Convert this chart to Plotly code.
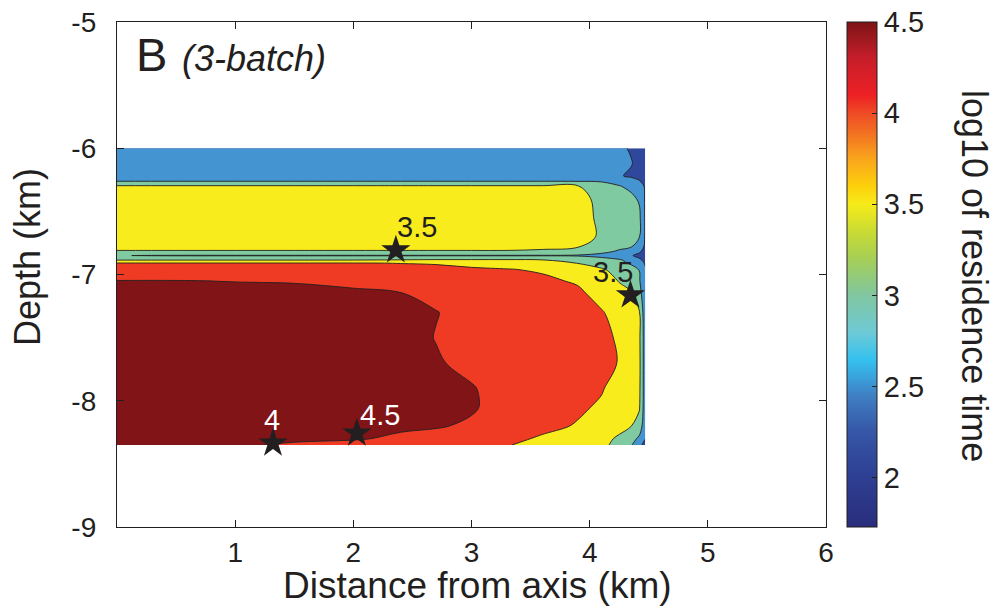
import plotly.graph_objects as go

# ---------------- data ----------------
# grid nodes (km)
X_KM = [0.0, 0.5, 1.0, 1.5, 2.0, 2.4, 2.7, 3.0, 3.3, 3.6, 3.9, 4.1, 4.25, 4.35, 4.42, 4.47]
Y_KM = [-6.00, -6.12, -6.22, -6.26, -6.30, -6.40, -6.55, -6.70, -6.78, -6.815, -6.85,
        -6.885, -6.91, -6.96, -7.05, -7.15, -7.30, -7.50, -7.70, -7.90, -8.05, -8.20,
        -8.30, -8.35]
# log10 of residence time, one row per Y_KM entry (top to bottom)
LOG_RES_TIME = [
    [2.75, 2.75, 2.75, 2.75, 2.75, 2.75, 2.75, 2.74, 2.73, 2.72, 2.70, 2.65, 2.56, 2.47, 2.35, 2.20],
    [2.82, 2.82, 2.82, 2.82, 2.82, 2.82, 2.82, 2.82, 2.81, 2.80, 2.78, 2.72, 2.62, 2.52, 2.40, 2.25],
    [2.92, 2.92, 2.92, 2.92, 2.92, 2.92, 2.92, 2.92, 2.91, 2.90, 2.86, 2.75, 2.53, 2.45, 2.40, 2.30],
    [2.98, 2.98, 2.98, 2.98, 2.98, 2.98, 2.98, 2.98, 2.98, 2.98, 2.97, 2.95, 2.85, 2.65, 2.52, 2.35],
    [3.55, 3.55, 3.55, 3.55, 3.55, 3.55, 3.55, 3.55, 3.55, 3.55, 3.52, 3.25, 3.02, 2.90, 2.70, 2.45],
    [3.70, 3.70, 3.70, 3.70, 3.70, 3.70, 3.70, 3.70, 3.70, 3.70, 3.62, 3.40, 3.20, 3.10, 2.95, 2.45],
    [3.80, 3.80, 3.80, 3.80, 3.80, 3.80, 3.80, 3.80, 3.80, 3.80, 3.70, 3.40, 3.25, 3.15, 3.10, 2.45],
    [3.72, 3.72, 3.72, 3.72, 3.72, 3.72, 3.72, 3.72, 3.72, 3.72, 3.65, 3.45, 3.25, 3.15, 3.02, 2.45],
    [3.60, 3.60, 3.60, 3.60, 3.60, 3.60, 3.60, 3.60, 3.60, 3.58, 3.52, 3.30, 3.10, 3.02, 2.85, 2.40],
    [3.48, 3.48, 3.48, 3.48, 3.48, 3.48, 3.48, 3.48, 3.48, 3.45, 3.35, 3.15, 2.95, 2.80, 2.60, 2.30],
    [3.01, 2.97, 2.97, 2.97, 2.97, 2.97, 2.97, 2.97, 2.97, 2.97, 2.95, 2.85, 2.70, 2.55, 2.35, 2.10],
    [3.48, 3.48, 3.48, 3.48, 3.49, 3.52, 3.55, 3.55, 3.55, 3.51, 3.40, 3.20, 3.05, 2.85, 2.60, 2.35],
    [4.02, 4.02, 4.02, 4.02, 4.02, 3.99, 3.97, 3.90, 3.80, 3.65, 3.49, 3.30, 3.10, 2.95, 2.75, 2.45],
    [4.20, 4.20, 4.20, 4.20, 4.20, 4.15, 4.10, 4.05, 4.02, 3.95, 3.75, 3.55, 3.35, 3.15, 2.99, 2.55],
    [4.51, 4.51, 4.49, 4.48, 4.43, 4.35, 4.28, 4.20, 4.15, 4.08, 3.95, 3.70, 3.48, 3.30, 3.05, 2.55],
    [4.60, 4.60, 4.60, 4.58, 4.55, 4.51, 4.42, 4.35, 4.28, 4.18, 4.08, 3.85, 3.62, 3.55, 3.20, 2.60],
    [4.70, 4.70, 4.70, 4.70, 4.65, 4.60, 4.51, 4.40, 4.32, 4.25, 4.15, 4.03, 3.85, 3.70, 3.54, 2.65],
    [4.75, 4.75, 4.75, 4.75, 4.70, 4.62, 4.49, 4.40, 4.35, 4.30, 4.20, 4.10, 3.95, 3.77, 3.60, 2.70],
    [4.75, 4.75, 4.75, 4.75, 4.72, 4.65, 4.53, 4.42, 4.35, 4.30, 4.22, 4.13, 3.98, 3.77, 3.62, 2.70],
    [4.72, 4.72, 4.72, 4.72, 4.70, 4.65, 4.60, 4.52, 4.38, 4.28, 4.16, 4.03, 3.85, 3.72, 3.60, 2.70],
    [4.70, 4.70, 4.70, 4.70, 4.67, 4.62, 4.57, 4.54, 4.35, 4.20, 4.06, 3.95, 3.72, 3.62, 3.55, 2.70],
    [4.65, 4.65, 4.63, 4.60, 4.58, 4.55, 4.53, 4.45, 4.25, 4.10, 3.97, 3.75, 3.60, 3.51, 3.30, 2.65],
    [4.60, 4.60, 4.57, 4.54, 4.53, 4.45, 4.38, 4.25, 4.10, 3.95, 3.78, 3.60, 3.45, 3.20, 2.90, 2.52],
    [4.56, 4.56, 4.53, 4.47, 4.40, 4.33, 4.25, 4.12, 4.02, 3.88, 3.72, 3.56, 3.42, 3.05, 2.65, 2.30],
]

# sample locations (stars) and their labels
STAR_X = [2.36, 4.345, 1.32, 2.03]
STAR_Y = [-6.807, -7.163, -8.336, -8.257]
STAR_LABELS = ["3.5", "3.5", "4", "4.5"]

# contour levels and colour bar range
LEVEL_START, LEVEL_END, LEVEL_STEP = 2.5, 4.5, 0.5
CB_MIN, CB_MAX = 1.73, 4.5
CB_TICKS = [2, 2.5, 3, 3.5, 4, 4.5]
X_TICKS = [1, 2, 3, 4, 5, 6]
Y_TICKS = [-9, -8, -7, -6, -5]

# ---------------- styling ----------------
FONT = "Liberation Sans, Arial, Helvetica, sans-serif"
INK = "#231f20"

band_colors = ["#30489c", "#4394d0", "#7fcaa0", "#f8ec1c", "#ef3b24", "#811417"]
fill_scale = []
n = len(band_colors)
for i, c in enumerate(band_colors):
    lo = max(0.0, (i - 0.5) / (n - 1))
    hi = min(1.0, (i + 0.5) / (n - 1))
    fill_scale.append([lo, c])
    fill_scale.append([hi, c])

cb_stop_vals = [1.73, 2.0, 2.25, 2.45, 2.55, 2.65, 2.8, 3.0, 3.2, 3.35, 3.5, 3.6,
                3.75, 3.9, 4.0, 4.1, 4.3, 4.5]
cb_stop_cols = ["#2a2d7c", "#2e3f92", "#3656a6", "#3f7fc2", "#3aa2dc", "#35c1ef",
                "#6fcad6", "#80c6a0", "#a5cf57", "#c9db33", "#f6eb1a", "#fdd00b",
                "#f9a51c", "#f26d22", "#ef4b26", "#ed2024", "#c61e2a", "#7d1416"]
cb_scale = [[(v - CB_MIN) / (CB_MAX - CB_MIN), c] for v, c in zip(cb_stop_vals, cb_stop_cols)]

L, R, T, B = 117, 174, 22, 83
PW, PH = 1000 - L - R, 610 - T - B


def px_x(p):
    return (p - L) / PW


def px_y(p):
    return 1 - (p - T) / PH


fig = go.Figure()

fig.add_trace(go.Contour(
    x=X_KM, y=Y_KM[::-1], z=LOG_RES_TIME[::-1],
    contours=dict(start=LEVEL_START, end=LEVEL_END, size=LEVEL_STEP, coloring="fill",
                  showlines=True),
    line=dict(color=INK, width=0.9, smoothing=1),
    colorscale=fill_scale, showscale=False, hoverinfo="skip",
))

# colour bar carrier (invisible markers)
fig.add_trace(go.Scatter(
    x=[STAR_X[0], STAR_X[0]], y=[STAR_Y[0], STAR_Y[0]], mode="markers",
    marker=dict(size=1, opacity=0, color=[CB_MIN, CB_MAX], cmin=CB_MIN, cmax=CB_MAX,
                colorscale=cb_scale, showscale=True,
                colorbar=dict(x=px_x(847), xanchor="left", xpad=0,
                              y=0.5, yanchor="middle", ypad=0, len=1, lenmode="fraction",
                              thickness=30, thicknessmode="pixels",
                              outlinewidth=1, outlinecolor=INK,
                              tickvals=CB_TICKS, ticktext=[f"{t:g}" for t in CB_TICKS],
                              tickprefix="\u2009",
                              ticks="inside", ticklen=5, tickcolor=INK, tickwidth=1,
                              tickfont=dict(family=FONT, size=29, color=INK))),
    hoverinfo="skip", showlegend=False,
))

fig.add_trace(go.Scatter(
    x=STAR_X, y=STAR_Y, mode="markers",
    marker=dict(symbol="star", size=22, color=INK, line=dict(width=0)),
    hoverinfo="skip", showlegend=False,
))

label_shift = [(21, 23), (-17, 23), (-1, 23), (23, 18)]
label_color = [INK, INK, "white", "white"]
for xs, ys, t, (dx, dy), col in zip(STAR_X, STAR_Y, STAR_LABELS, label_shift, label_color):
    fig.add_annotation(x=xs, y=ys, xref="x", yref="y", text=t, showarrow=False,
                       xshift=dx, yshift=dy, xanchor="center", yanchor="middle",
                       font=dict(family=FONT, size=29, color=col))

axis_common = dict(showline=True, linecolor=INK, linewidth=1.3, mirror="ticks",
                   ticks="inside", ticklen=7, tickcolor=INK, tickwidth=1,
                   showgrid=False, zeroline=False,
                   tickfont=dict(family=FONT, size=28, color=INK))
fig.update_xaxes(range=[0, 6], tickvals=X_TICKS, ticktext=[str(t) for t in X_TICKS],
                 **axis_common)
fig.update_yaxes(range=[-9, -5], tickvals=Y_TICKS, ticktext=[str(t) for t in Y_TICKS],
                 ticklabelstandoff=14, **axis_common)

# titles
fig.add_annotation(x=px_x(477), y=px_y(585), xref="paper", yref="paper",
                   text="Distance from axis (km)", showarrow=False,
                   xanchor="center", yanchor="middle",
                   font=dict(family=FONT, size=37, color=INK))
fig.add_annotation(x=px_x(27), y=px_y(257), xref="paper", yref="paper",
                   text="Depth (km)", showarrow=False, textangle=-90,
                   xanchor="center", yanchor="middle",
                   font=dict(family=FONT, size=36, color=INK))
fig.add_annotation(x=px_x(975), y=px_y(276), xref="paper", yref="paper",
                   text="log10 of residence time", showarrow=False, textangle=90,
                   xanchor="center", yanchor="middle",
                   font=dict(family=FONT, size=36, color=INK))
fig.add_annotation(x=px_x(134), y=px_y(54), xref="paper", yref="paper",
                   text="B", showarrow=False, xanchor="left", yanchor="middle",
                   font=dict(family=FONT, size=47, color=INK))
fig.add_annotation(x=px_x(180), y=px_y(59), xref="paper", yref="paper",
                   text="<i>(3-batch)</i>", showarrow=False, xanchor="left", yanchor="middle",
                   font=dict(family=FONT, size=36, color=INK))

fig.update_layout(
    width=1000, height=610, margin=dict(l=L, r=R, t=T, b=B, autoexpand=False),
    paper_bgcolor="white", plot_bgcolor="white", showlegend=False,
    font=dict(family=FONT, color=INK),
)

fig.write_html("out.html", config={"displayModeBar": False},
               post_script="document.body.style.margin='0';document.body.style.padding='0';"
                           "document.body.style.overflow='hidden';")
